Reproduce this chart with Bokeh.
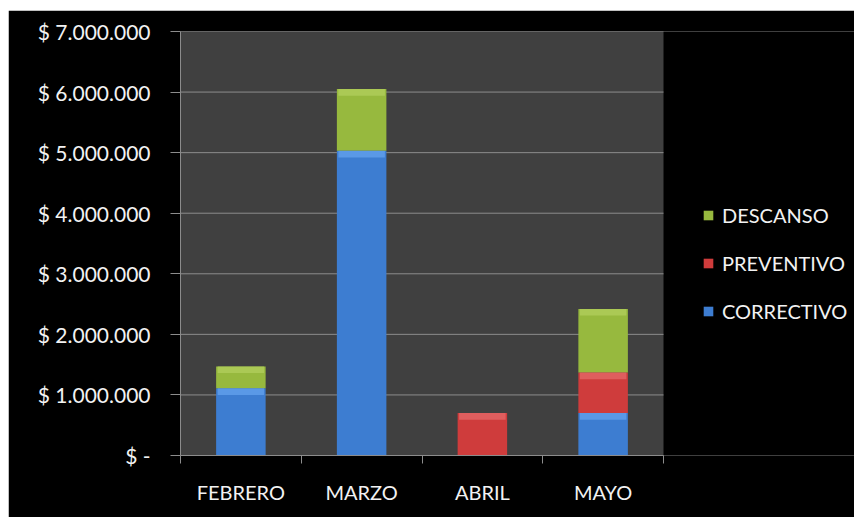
from bokeh.plotting import figure
from bokeh.models import FixedTicker, Legend, LegendItem, ColumnDataSource, Range1d
from bokeh.embed import file_html
from bokeh.resources import INLINE

# ---- data ----
meses = ["FEBRERO", "MARZO", "ABRIL", "MAYO"]
correctivo = [1110000, 5030000, 0, 700000]
preventivo = [0, 0, 700000, 670000]
descanso = [360000, 1020000, 0, 1050000]
series = ["CORRECTIVO", "PREVENTIVO", "DESCANSO"]
colores = ["#3d7dd1", "#cf3c3c", "#97b93e"]
brillos = ["#64a3ee", "#e46a6a", "#b2cf5e"]
y_ticks = [0, 1000000, 2000000, 3000000, 4000000, 5000000, 6000000, 7000000]


def fmt(v):
    if v == 0:
        return "$ -"
    return "$ " + f"{v:,}".replace(",", ".")


n = len(meses)
x = [i + 0.5 for i in range(n)]
data = dict(x=x, CORRECTIVO=correctivo, PREVENTIVO=preventivo, DESCANSO=descanso)
src = ColumnDataSource(data)

FONT = "Lato"
TXT = "#f2f2f2"
GRID = "#8c8c8c"
BAR_W = 0.41

# plot area occupies 483 px of a 674 px frame; the rest holds the legend
x_end = n * 674 / 483

p = figure(width=846, height=507,
           x_range=Range1d(0, x_end), y_range=Range1d(0, y_ticks[-1]),
           output_backend="svg", toolbar_location=None,
           min_border_left=172, min_border_right=0,
           min_border_top=21, min_border_bottom=62)
p.margin = (10, 0, 0, 8)
p.background_fill_color = "black"
p.border_fill_color = "black"
p.outline_line_color = None

# plot-area background and gridlines
p.quad(left=0, right=n, bottom=0, top=y_ticks[-1], fill_color="#404040", line_color=None)
p.segment(x0=[0] * len(y_ticks), x1=[n] * len(y_ticks), y0=y_ticks, y1=y_ticks,
          line_color=GRID, line_width=1)

rs = p.vbar_stack(series, x="x", width=BAR_W, source=src, color=colores,
                  line_color=None)

# bevel highlight along the top of each segment
bevel = 110000
base = [0] * n
for s, hc in zip(series, brillos):
    vals = data[s]
    tops = [b + v for b, v in zip(base, vals)]
    hx = [xi for xi, v in zip(x, vals) if v > 0]
    ht = [t for t, v in zip(tops, vals) if v > 0]
    hb = [t - min(bevel, v) for t, v in zip(tops, vals) if v > 0]
    p.vbar(x=hx, top=ht, bottom=hb, width=BAR_W * 0.94, fill_color=hc,
           fill_alpha=0.75, line_color=None)
    base = tops

# y axis
p.yaxis.ticker = FixedTicker(ticks=y_ticks)
p.yaxis.major_label_overrides = {t: fmt(t) for t in y_ticks}
p.yaxis.axis_line_color = GRID
p.yaxis.major_tick_line_color = GRID
p.yaxis.major_tick_out = 10
p.yaxis.major_tick_in = 0
p.yaxis.minor_tick_line_color = None
p.yaxis.major_label_text_color = TXT
p.yaxis.major_label_text_font = FONT
p.yaxis.major_label_text_font_size = "21px"
p.yaxis.major_label_standoff = 20

# x axis
p.xaxis.bounds = (0, n)
p.xaxis.ticker = FixedTicker(ticks=x, minor_ticks=list(range(n + 1)))
p.xaxis.major_label_overrides = {xi: m for xi, m in zip(x, meses)}
p.xaxis.axis_line_color = GRID
p.xaxis.major_tick_line_color = None
p.xaxis.major_tick_out = 0
p.xaxis.major_tick_in = 0
p.xaxis.minor_tick_line_color = GRID
p.xaxis.minor_tick_out = 8
p.xaxis.minor_tick_in = 0
p.xaxis.major_label_text_color = TXT
p.xaxis.major_label_text_font = FONT
p.xaxis.major_label_text_font_size = "20px"
p.xaxis.major_label_standoff = 16

p.xgrid.grid_line_color = None
p.ygrid.grid_line_color = None

items = [LegendItem(label=s, renderers=[r]) for s, r in zip(series, rs)][::-1]
leg = Legend(items=items, location=(522, 132))
leg.background_fill_alpha = 0
leg.border_line_color = None
leg.label_text_color = TXT
leg.label_text_font = FONT
leg.label_text_font_size = "20px"
leg.glyph_width = 12
leg.glyph_height = 12
leg.label_height = 20
leg.spacing = 24
leg.label_standoff = 8
leg.padding = 0
leg.margin = 0
p.add_layout(leg, "center")

open("out.html", "w").write(file_html(p, INLINE))
